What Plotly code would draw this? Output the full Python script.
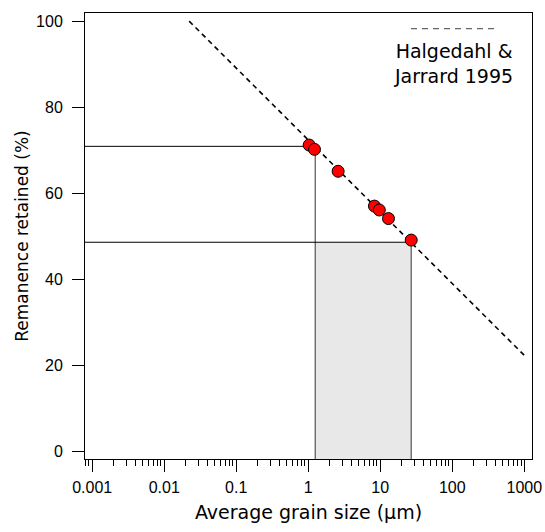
import plotly.graph_objects as go

# Measured samples: average grain size (µm) vs remanence retained (%)
grain_size = [1.03, 1.22, 2.6, 8.3, 9.7, 13.0, 26.9]
remanence = [71.2, 70.2, 65.1, 57.0, 56.1, 54.1, 49.1]

# Halgedahl & Jarrard (1995) trend, end points
trend_size = [0.0222, 1000]
trend_remanence = [100, 22.3]

# Read-off guides (grain size, remanence) at the two ends of the shaded band
guide_lo = (1.25, 70.9)
guide_hi = (26.9, 48.6)

X_RANGE_LOG = [-3.1, 3.107]
Y_RANGE = [-1.8, 101.9]
x_left = 10 ** X_RANGE_LOG[0]
y_floor = Y_RANGE[0]

fig = go.Figure()

# shaded band between the two grain sizes
fig.add_trace(go.Scatter(
    x=[guide_lo[0], guide_lo[0], guide_hi[0], guide_hi[0], guide_lo[0]],
    y=[y_floor, guide_hi[1], guide_hi[1], y_floor, y_floor],
    mode="lines", fill="toself", fillcolor="#e8e8e8",
    line=dict(color="rgba(0,0,0,0)", width=0), hoverinfo="skip", showlegend=False))

# horizontal guides (black) and vertical drops (dark gray)
for gx, gy in (guide_lo, guide_hi):
    fig.add_trace(go.Scatter(x=[x_left, gx], y=[gy, gy], mode="lines",
                             line=dict(color="black", width=1), showlegend=False))
    fig.add_trace(go.Scatter(x=[gx, gx], y=[gy, y_floor], mode="lines",
                             line=dict(color="#555555", width=1.2), showlegend=False))

# trend line
fig.add_trace(go.Scatter(x=trend_size, y=trend_remanence, mode="lines",
                         line=dict(color="black", width=1.6, dash="5px,4px"),
                         showlegend=False))

# samples
fig.add_trace(go.Scatter(x=grain_size, y=remanence, mode="markers",
                         marker=dict(color="#ff0000", size=12,
                                     line=dict(color="black", width=1)),
                         showlegend=False))

tick_font = dict(family="Liberation Sans, Arial, sans-serif", size=16, color="black")
title_family = "DejaVu Sans, sans-serif"

fig.update_xaxes(
    type="log", range=X_RANGE_LOG, dtick=1, tickformat="~g", automargin=False,
    showline=True, linecolor="black", linewidth=1, mirror=True,
    ticks="outside", ticklen=12, tickwidth=1, tickcolor="black",
    minor=dict(dtick="D1", ticks="outside", ticklen=6, tickwidth=1,
               tickcolor="black", showgrid=False),
    showgrid=False, zeroline=False, tickfont=tick_font, ticklabelstandoff=2,
    title=dict(text="Average grain size (µm)",
               font=dict(family=title_family, size=19, color="black"), standoff=10),
)
fig.update_yaxes(
    range=Y_RANGE, tickvals=[0, 20, 40, 60, 80, 100], automargin=False,
    showline=True, linecolor="black", linewidth=1, mirror=True,
    ticks="outside", ticklen=12, tickwidth=1, tickcolor="black",
    showgrid=False, zeroline=False, tickfont=tick_font, ticklabelstandoff=6,
    title=dict(text="Remanence retained (%)",
               font=dict(family=title_family, size=17, color="black"), standoff=3),
)

# legend entry drawn in paper space
fig.add_shape(type="line", xref="paper", yref="paper",
              x0=(411 - 85) / 447, x1=(496 - 85) / 447,
              y0=(459.3 - 28.3) / 446.6, y1=(459.3 - 28.3) / 446.6,
              line=dict(color="#666666", width=1.3, dash="6px,5px"))
fig.add_annotation(xref="paper", yref="paper",
                   x=(453 - 85) / 447, y=(459.3 - 63) / 446.6,
                   text="Halgedahl &<br>Jarrard 1995", showarrow=False,
                   align="center", xanchor="center", yanchor="middle",
                   font=dict(family=title_family, size=19, color="black"))

fig.update_layout(
    width=545, height=532,
    margin=dict(l=85, r=13, t=13, b=73),
    plot_bgcolor="white", paper_bgcolor="white",
    showlegend=False,
)

fig.write_html("out.html")
